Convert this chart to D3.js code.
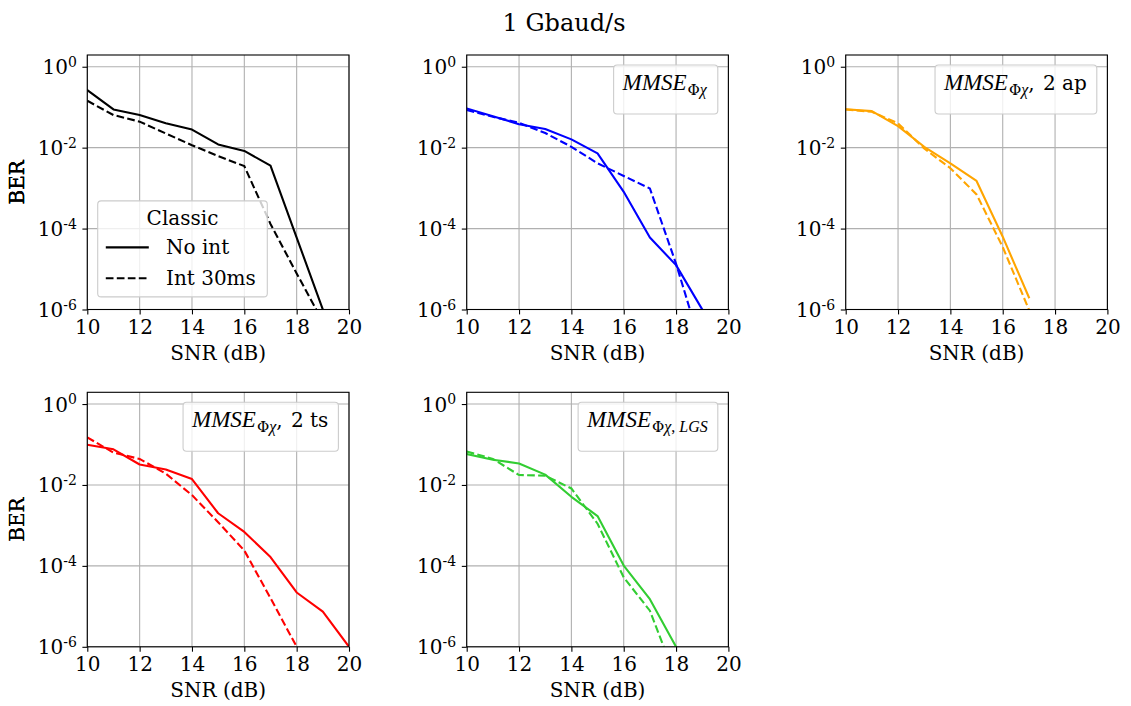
<!DOCTYPE html>
<html>
<head>
<meta charset="utf-8">
<script src="https://cdn.jsdelivr.net/npm/d3@7"></script>
<style>
  body { margin: 0; background: #fff; }
  svg { display: block; }
  text { font-weight: normal; }
</style>
</head>
<body>
<svg id="chart" width="1131" height="706"></svg>
<script>
// ---------------- DATA ----------------
const title = "1 Gbaud/s";
const xTicks = [10, 12, 14, 16, 18, 20];
const yTickExps = [0, -2, -4, -6];

const snrA = [10, 11, 12, 13, 14, 15, 16, 17, 18, 19];
const snrB = [10, 11, 12, 13, 14, 15, 16, 17];
const snrC = [10, 11, 12, 13, 14, 15, 16, 17, 18, 19, 20];
const snrD = [10, 11, 12, 13, 14, 15, 16, 17, 18];

const classicNoInt = [0.265, 0.088, 0.064, 0.040, 0.028, 0.012, 0.0083, 0.0036, 6e-5, 1e-6];
const classicInt30 = [0.144, 0.064, 0.044, 0.0224, 0.0115, 0.0062, 0.0035, 1.3e-4, 7.8e-6, 5e-7];

const mmseNoInt = [0.093, 0.060, 0.038, 0.029, 0.016, 0.0072, 8.1e-4, 6e-5, 1.25e-5, 1e-6];
const mmseInt30 = [0.085, 0.058, 0.041, 0.023, 0.0105, 0.0041, 0.0020, 9.8e-4, 1.35e-5, 1e-7];

const apNoInt = [0.089, 0.080, 0.034, 0.0105, 0.0041, 0.0015, 6.3e-5, 2e-6];
const apInt30 = [0.088, 0.077, 0.040, 0.0095, 0.0031, 7e-4, 3.5e-5, 1e-6];

const tsNoInt = [0.098, 0.076, 0.032, 0.024, 0.014, 0.0020, 6.9e-4, 1.65e-4, 2.2e-5, 7.4e-6, 1e-6];
const tsInt30 = [0.150, 0.063, 0.044, 0.019, 0.0056, 0.0012, 2.4e-4, 1.6e-5, 1e-6];

const lgsNoInt = [0.058, 0.042, 0.034, 0.018, 0.0051, 0.0017, 1.02e-4, 1.5e-5, 1e-6];
const lgsInt30 = [0.067, 0.044, 0.0176, 0.017, 0.0082, 0.0011, 5.2e-5, 7.8e-6, 1.6e-7];

const legendClassicTitle = "Classic";
const legendClassicLabels = ["No int", "Int 30ms"];

// ---------------- LAYOUT ----------------
const svg = d3.select("#chart");
const colX = [87.3, 466.7, 845.7];
const rowY = [55, 392.3];
const pw = 261.7, ph = 254.5;
const serif = "DejaVu Serif";
const fs = 20;

svg.append("text")
  .attr("x", 564).attr("y", 31)
  .attr("text-anchor", "middle")
  .attr("font-family", serif).attr("font-size", 24)
  .text(title);

const panels = [
  { row: 0, col: 0, color: "#000000", xs: snrA, solid: classicNoInt, xsd: snrA, dashed: classicInt30, legend: "classic" },
  { row: 0, col: 1, color: "#0000ff", xs: snrA, solid: mmseNoInt, xsd: snrA, dashed: mmseInt30, legend: { sub: "chi", suffix: "" } },
  { row: 0, col: 2, color: "#ffa500", xs: snrB, solid: apNoInt, xsd: snrB, dashed: apInt30, legend: { sub: "chi", suffix: ", 2 ap" } },
  { row: 1, col: 0, color: "#ff0000", xs: snrC, solid: tsNoInt, xsd: snrD, dashed: tsInt30, legend: { sub: "chi", suffix: ", 2 ts" } },
  { row: 1, col: 1, color: "#32cd32", xs: snrD, solid: lgsNoInt, xsd: snrD, dashed: lgsInt30, legend: { sub: "lgs", suffix: "" } }
];

panels.forEach((p, i) => {
  const x0 = colX[p.col], y0 = rowY[p.row];
  const g = svg.append("g").attr("transform", `translate(${x0},${y0})`);
  const x = d3.scaleLinear().domain([10, 20]).range([0, pw]);
  const y = d3.scaleLog().domain([1e-6, Math.pow(10, 0.29)]).range([ph, 0]);

  const cid = "clip" + i;
  g.append("clipPath").attr("id", cid)
    .append("rect").attr("width", pw).attr("height", ph);

  // grid
  g.append("g").selectAll("line").data(xTicks).join("line")
    .attr("x1", d => x(d)).attr("x2", d => x(d))
    .attr("y1", 0).attr("y2", ph)
    .attr("stroke", "#b0b0b0").attr("stroke-width", 1.1);
  g.append("g").selectAll("line").data(yTickExps).join("line")
    .attr("y1", d => y(Math.pow(10, d))).attr("y2", d => y(Math.pow(10, d)))
    .attr("x1", 0).attr("x2", pw)
    .attr("stroke", "#b0b0b0").attr("stroke-width", 1.1);

  // lines
  const line = d3.line().x(d => x(d[0])).y(d => y(d[1]));
  const lg = g.append("g").attr("clip-path", `url(#${cid})`);
  lg.append("path")
    .attr("d", line(p.xs.map((v, k) => [v, p.solid[k]])))
    .attr("fill", "none").attr("stroke", p.color).attr("stroke-width", 2.1)
    .attr("stroke-linejoin", "round").attr("stroke-linecap", "square");
  lg.append("path")
    .attr("d", line(p.xsd.map((v, k) => [v, p.dashed[k]])))
    .attr("fill", "none").attr("stroke", p.color).attr("stroke-width", 2.1)
    .attr("stroke-dasharray", "7.7,3.3");

  // axes
  const xAxis = d3.axisBottom(x).tickValues(xTicks).tickSize(4.9).tickPadding(4).tickFormat(d3.format("d"));
  const gx = g.append("g").attr("transform", `translate(0,${ph})`).call(xAxis);
  gx.select(".domain").remove();
  gx.selectAll(".tick line").attr("stroke", "#000").attr("stroke-width", 1.1);
  gx.selectAll(".tick text").attr("font-family", serif).attr("font-size", fs).attr("fill", "#000")
    .attr("dy", "0.78em");

  const yAxis = d3.axisLeft(y).tickValues(yTickExps.map(e => Math.pow(10, e))).tickSize(4.9).tickFormat("");
  const gy = g.append("g").call(yAxis);
  gy.select(".domain").remove();
  gy.selectAll(".tick line").attr("stroke", "#000").attr("stroke-width", 1.1);
  gy.selectAll(".tick").each(function(d) {
    const e = Math.round(Math.log10(d));
    const t = d3.select(this).append("text")
      .attr("x", -10.5).attr("y", 0)
      .attr("text-anchor", "end")
      .attr("font-family", serif).attr("fill", "#000");
    t.append("tspan").attr("font-size", fs).attr("dy", 7).text("10");
    t.append("tspan").attr("font-size", 14).attr("dy", -7.5).text(String(e));
  });

  // spines
  g.append("rect").attr("width", pw).attr("height", ph)
    .attr("fill", "none").attr("stroke", "#000").attr("stroke-width", 1.1);

  // axis labels
  g.append("text").attr("x", pw / 2).attr("y", ph + 50)
    .attr("text-anchor", "middle").attr("font-family", serif).attr("font-size", fs)
    .text("SNR (dB)");
  g.append("text")
    .attr("transform", `translate(${-x0 + 24},${ph / 2}) rotate(-90)`)
    .attr("text-anchor", "middle").attr("font-family", serif).attr("font-size", fs)
    .attr("font-weight", "normal")
    .text("BER");

  // legends
  if (p.legend === "classic") {
    const lgG = g.append("g");
    const by = ph - 12.6 - 96;
    lgG.append("rect").attr("x", 10.4).attr("y", by).attr("width", 169.6).attr("height", 96)
      .attr("rx", 3.5).attr("fill", "#fff").attr("fill-opacity", 0.8)
      .attr("stroke", "#cccccc").attr("stroke-width", 1.1);
    lgG.append("text").attr("x", 10.4 + 84.8).attr("y", by + 24.5)
      .attr("text-anchor", "middle").attr("font-family", serif).attr("font-size", fs)
      .text(legendClassicTitle);
    legendClassicLabels.forEach((lab, k) => {
      const ly = by + 46.5 + k * 30.8;
      lgG.append("line").attr("x1", 18.5).attr("x2", 61.5).attr("y1", ly).attr("y2", ly)
        .attr("stroke", p.color).attr("stroke-width", 2.1)
        .attr("stroke-dasharray", k === 1 ? "7.7,3.3" : null);
      lgG.append("text").attr("x", 78.7).attr("y", ly + 7)
        .attr("font-family", serif).attr("font-size", fs).text(lab);
    });
  } else {
    const lgG = g.append("g");
    const rect = lgG.append("rect");
    const t = lgG.append("text").attr("y", 35).attr("fill", "#000");
    t.append("tspan").attr("font-family", "Liberation Serif").attr("font-style", "italic")
      .attr("font-size", 23).text("MMSE");
    t.append("tspan").attr("font-family", serif).attr("font-size", 15).attr("dy", 4.5).attr("dx", 1).text("Φ");
    t.append("tspan").attr("font-family", "Liberation Serif").attr("font-style", "italic")
      .attr("font-size", 16).text("χ");
    if (p.legend.sub === "lgs") {
      t.append("tspan").attr("font-family", "Liberation Serif").attr("font-size", 16).text(", ");
      t.append("tspan").attr("font-family", "Liberation Serif").attr("font-style", "italic")
        .attr("font-size", 16).text("LGS");
    }
    if (p.legend.suffix) {
      t.append("tspan").attr("font-family", serif).attr("font-size", fs).attr("dy", -4.5).text(",");
      t.append("tspan").attr("font-family", serif).attr("font-size", fs).attr("dx", 2).text(p.legend.suffix.slice(1));
    }
    const bb = t.node().getBBox();
    const bw = bb.width + 18;
    const bx = pw - 10.6 - bw;
    t.attr("x", bx + 9);
    rect.attr("x", bx).attr("y", 10).attr("width", bw).attr("height", 49)
      .attr("rx", 3.5).attr("fill", "#fff").attr("fill-opacity", 0.8)
      .attr("stroke", "#cccccc").attr("stroke-width", 1.1);
  }
});
</script>
</body>
</html>
